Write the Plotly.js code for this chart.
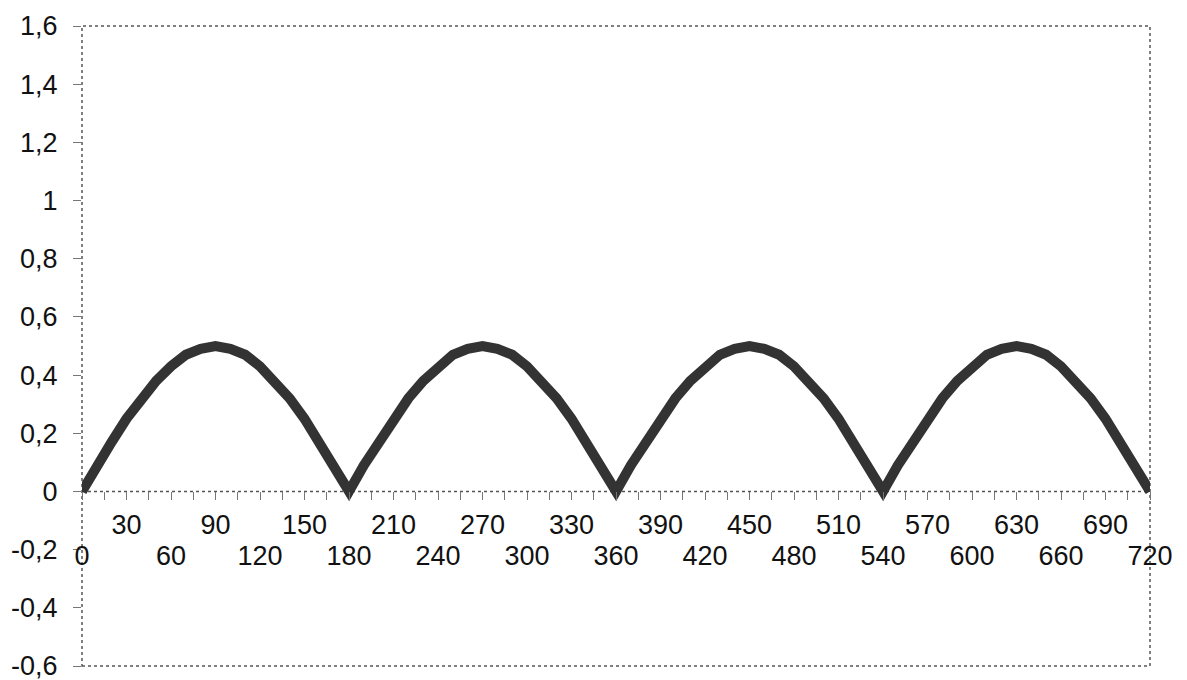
<!DOCTYPE html>
<html>
<head>
<meta charset="utf-8">
<script src="https://cdn.plot.ly/plotly-3.0.1.min.js"></script>
<style>html,body{margin:0;padding:0;background:#fff;}#chart{width:1187px;height:680px;}</style>
</head>
<body>
<div id="chart"></div>
<script>
// Angle (degrees) and curve value
const angles = [0,10,20,30,40,50,60,70,80,90,100,110,120,130,140,150,160,170,
  180,190,200,210,220,230,240,250,260,270,280,290,300,310,320,330,340,350,
  360,370,380,390,400,410,420,430,440,450,460,470,480,490,500,510,520,530,
  540,550,560,570,580,590,600,610,620,630,640,650,660,670,680,690,700,710,720];
const values = [0,0.09,0.17,0.25,0.32,0.38,0.43,0.47,0.49,0.50,0.49,0.47,0.43,0.38,0.32,0.25,0.17,0.09,
  0,0.09,0.17,0.25,0.32,0.38,0.43,0.47,0.49,0.50,0.49,0.47,0.43,0.38,0.32,0.25,0.17,0.09,
  0,0.09,0.17,0.25,0.32,0.38,0.43,0.47,0.49,0.50,0.49,0.47,0.43,0.38,0.32,0.25,0.17,0.09,
  0,0.09,0.17,0.25,0.32,0.38,0.43,0.47,0.49,0.50,0.49,0.47,0.43,0.38,0.32,0.25,0.17,0.09,0];

// Tick labels: upper row and lower row of the staggered x axis
const xUpperVals = [30,90,150,210,270,330,390,450,510,570,630,690];
const xUpperText = ['30','90','150','210','270','330','390','450','510','570','630','690'];
const xLowerVals = [0,60,120,180,240,300,360,420,480,540,600,660,720];
const xLowerText = ['0','60','120','180','240','300','360','420','480','540','600','660','720'];
const xMinorVals = [15,45,75,105,135,165,195,225,255,285,315,345,375,405,435,465,495,525,555,585,615,645,675,705];
const yTickVals = [1.6,1.4,1.2,1,0.8,0.6,0.4,0.2,0,-0.2,-0.4,-0.6];
const yTickText = ['1,6','1,4','1,2','1','0,8','0,6','0,4','0,2','0','-0,2','-0,4','-0,6'];

const font = {family:'"Liberation Sans", Arial, sans-serif', size:27, color:'#111'};

const trace = {
  x: angles, y: values, type:'scatter', mode:'lines',
  line:{color:'#333333', width:10}, hoverinfo:'skip', showlegend:false
};
// empty carrier so the lower-row label axis is drawn
const carrier = {x:[], y:[], xaxis:'x2', yaxis:'y', type:'scatter', mode:'lines', hoverinfo:'skip', showlegend:false};

const axPos = 0.6/2.2;
const layout = {
  width:1187, height:680,
  margin:{l:82, r:37, t:26, b:14},
  paper_bgcolor:'#fff', plot_bgcolor:'#fff',
  font: font,
  showlegend:false,
  xaxis:{
    range:[0,720], anchor:'free', position:axPos,
    tickmode:'array', tickvals:xUpperVals, ticktext:xUpperText, tickangle:0,
    ticks:'outside', ticklen:8, tickcolor:'#777', tickwidth:1,
    minor:{tickmode:'array', tickvals:xMinorVals, ticks:'outside', ticklen:8, tickcolor:'#777', tickwidth:1},
    showgrid:false, zeroline:false, showline:false,
    tickfont:font, ticklabelstandoff:1, ticklabeloverflow:'allow', fixedrange:true, automargin:false
  },
  xaxis2:{
    range:[0,720], overlaying:'x', anchor:'free', position:axPos, side:'bottom',
    tickmode:'array', tickvals:xLowerVals, ticktext:xLowerText, tickangle:0,
    ticks:'outside', ticklen:8, tickcolor:'#777', tickwidth:1,
    showgrid:false, zeroline:false, showline:false,
    tickfont:font, ticklabelstandoff:32, ticklabeloverflow:'allow', fixedrange:true, automargin:false
  },
  yaxis:{
    range:[-0.6,1.6],
    tickmode:'array', tickvals:yTickVals, ticktext:yTickText,
    ticks:'outside', ticklen:8, tickcolor:'#777', tickwidth:1,
    showgrid:false, zeroline:false, showline:false,
    tickfont:font, ticklabelstandoff:10, ticklabeloverflow:'allow', fixedrange:true, automargin:false
  },
  shapes:[
    {type:'rect', xref:'paper', yref:'paper', x0:0, x1:1, y0:0, y1:1,
     line:{color:'#555', width:1.5, dash:'dot'}, layer:'below'},
    {type:'line', xref:'x', yref:'y', x0:0, x1:720, y0:0, y1:0,
     line:{color:'#555', width:1.5, dash:'dot'}, layer:'below'}
  ]
};

Plotly.newPlot('chart', [trace, carrier], layout, {staticPlot:true, displayModeBar:false});
</script>
</body>
</html>
